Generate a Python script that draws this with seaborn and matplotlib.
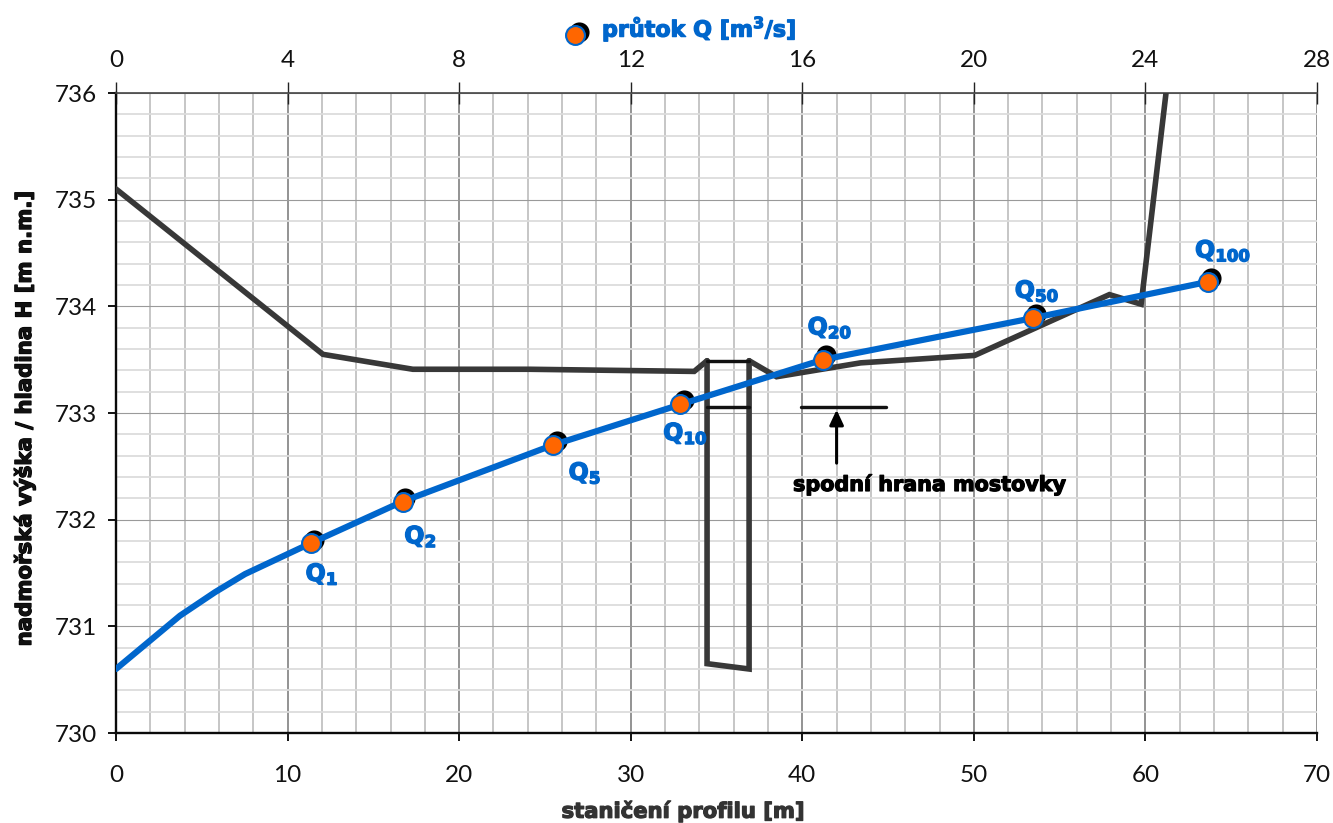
import matplotlib
matplotlib.use('Agg')
import matplotlib.pyplot as plt
import seaborn as sns
from matplotlib.ticker import MultipleLocator
import matplotlib.patheffects as pe

# teren pred mostem / za mostem
left_x = [0, 12.06, 17.3, 24.1, 33.7, 34.45]
left_h = [735.1, 733.55, 733.41, 733.41, 733.39, 733.49]
right_x = [36.9, 38.5, 43.4, 50.05, 57.9, 59.75, 61.2]
right_h = [733.49, 733.34, 733.47, 733.54, 734.11, 734.02, 736.0]

# pilire a mostovka
pier_x = [34.45, 34.45, 36.9, 36.9]
pier_h = [733.49, 730.65, 730.6, 733.49]
deck_x = [34.45, 36.9]
deck_top = [733.49, 733.49]
deck_low = [733.06, 733.06]
note_x = [39.9, 44.9]
note_h = [733.06, 733.06]

# merna krivka
curve_x = [0, 3.73, 5.77, 7.52, 11.36, 16.7, 25.47, 32.9, 41.2, 53.45, 63.65]
curve_h = [730.6, 731.1, 731.32, 731.49, 731.78, 732.17, 732.7, 733.08, 733.5, 733.89, 734.23]

# N-leté průtoky
q_names = ['1', '2', '5', '10', '20', '50', '100']
q_x = [11.36, 16.7, 25.47, 32.9, 41.2, 53.45, 63.65]
q_h = [731.78, 732.17, 732.7, 733.08, 733.5, 733.89, 734.23]
q_flow = [4.62, 6.74, 10.28, 13.24, 16.55, 21.45, 25.52]
q_flow_h = [731.81, 732.2, 732.74, 733.12, 733.54, 733.93, 734.27]
q_offsets = [(11, -31), (18, -35), (32, -28), (5, -29), (7, 32), (4, 27), (15, 31)]

BLUE = '#0066cc'
DARK = '#383838'
ORANGE = '#ff6600'
W, H = 1333, 823

sns.set_style('white')
plt.rcParams['font.family'] = ['Lato', 'DejaVu Sans']
plt.rcParams['mathtext.fontset'] = 'dejavusans'

fig = plt.figure(figsize=(W / 100, H / 100), dpi=100)
ax_q = fig.add_axes([116 / W, 1 - 733 / H, (1317 - 116) / W, (733 - 93) / H])
ax = ax_q.twiny()
ax.patch.set_visible(False)

heavy = [pe.withStroke(linewidth=0.9, foreground='black')]


def line(x, y, color=DARK, px=5.6, cap='round'):
    sns.lineplot(x=x, y=y, ax=ax, color=color, lw=px * 0.72, sort=False,
                 estimator=None, errorbar=None, legend=False,
                 solid_capstyle=cap, solid_joinstyle='miter')


# horni osa: prutok, zakladni mrizka
ax_q.set_xlim(0, 28)
ax_q.set_ylim(730, 736)
ax_q.xaxis.set_major_locator(MultipleLocator(4))
ax_q.xaxis.set_minor_locator(MultipleLocator(0.8))
ax_q.yaxis.set_major_locator(MultipleLocator(1))
ax_q.yaxis.set_minor_locator(MultipleLocator(0.2))
ax_q.grid(True, which='major', axis='x', color='#8a8a8a', lw=1.3)
ax_q.grid(True, which='major', axis='y', color='#9a9a9a', lw=0.8)
ax_q.grid(True, which='minor', axis='x', color='#c6c6c6', lw=1.4)
ax_q.grid(True, which='minor', axis='y', color='#dcdcdc', lw=1.3)
ax_q.set_axisbelow(True)
ax_q.xaxis.tick_top()
ax_q.tick_params(axis='x', which='major', direction='inout', length=16, width=1,
                 color='#222222', labelsize=17.5, pad=8, labelcolor='#111111')
ax_q.tick_params(axis='y', which='major', direction='out', length=6, width=1.4,
                 color='#111111', labelsize=17.5, pad=8, labelcolor='#111111', left=True)
ax_q.tick_params(which='minor', length=0)

sns.scatterplot(x=q_flow, y=q_flow_h, ax=ax_q, color='black', s=210, linewidth=0,
                legend=False, clip_on=False)

# dolni osa: staniceni
ax.set_xlim(0, 70)
ax.xaxis.tick_bottom()
ax.xaxis.set_label_position('bottom')
ax.xaxis.set_major_locator(MultipleLocator(10))
ax.tick_params(axis='x', which='major', direction='out', length=6, width=1.4,
               color='#111111', labelsize=17.5, pad=17, labelcolor='#111111', bottom=True, top=False)
ax.grid(False)

line(left_x, left_h)
line(right_x, right_h)
line(pier_x, pier_h)
line(deck_x, deck_top, color='#111111', px=3.4)
line(deck_x, deck_low, color='#111111', px=3.4)
line(note_x, note_h, color='#111111', px=3.4)
line(curve_x, curve_h, color=BLUE, px=6.2)

sns.scatterplot(x=q_x, y=q_h, ax=ax, color=ORANGE, edgecolor=BLUE, linewidth=1.5, s=185,
                legend=False, zorder=5)

for name, x, y, off in zip(q_names, q_x, q_h, q_offsets):
    ax.annotate(r'$\mathbf{Q_{%s}}$' % name, (x, y), xytext=off, textcoords='offset pixels',
                color=BLUE, fontsize=17, ha='center', va='center', zorder=6,
                path_effects=[pe.withStroke(linewidth=1.0, foreground=BLUE)])

ax.annotate('', xy=(42, 733.03), xytext=(42, 732.53),
            arrowprops=dict(arrowstyle='-|>,head_length=0.9,head_width=0.42', color='black', lw=2.2,
                            shrinkA=0, shrinkB=0))
ax.text(47.4, 732.33, 'spodní hrana mostovky', family='DejaVu Sans', fontweight='bold',
        fontsize=14.9, ha='center', va='center', color='black', path_effects=heavy)

# popisy os
for spine in ('left', 'bottom'):
    ax_q.spines[spine].set_color('#0a0a0a')
    ax_q.spines[spine].set_linewidth(1.7)
ax_q.spines['top'].set_color('#444444')
ax_q.spines['top'].set_linewidth(1.2)
ax_q.spines['right'].set_visible(False)
for spine in ax.spines.values():
    spine.set_visible(False)

ax.set_ylabel('')
ax_q.set_ylabel('')
fig.text(24 / W, 1 - 419 / H, 'nadmořská výška / hladina H [m n.m.]', rotation=90,
         family='DejaVu Sans', fontweight='bold', fontsize=15.3, ha='center', va='center',
         color='#111111', path_effects=heavy)
fig.text(683 / W, 1 - 811 / H, 'staničení profilu [m]', family='DejaVu Sans', fontweight='bold',
         fontsize=15.2, ha='center', va='center', color='#333333',
         path_effects=[pe.withStroke(linewidth=0.9, foreground='#333333')])

# legenda nad grafem
leg = fig.add_axes([0, 0, 1, 1])
leg.set_xlim(0, W)
leg.set_ylim(H, 0)
leg.axis('off')
leg.patch.set_visible(False)
sns.scatterplot(x=[579], y=[32], ax=leg, color='black', s=210, linewidth=0, legend=False)
sns.scatterplot(x=[575], y=[35], ax=leg, color=ORANGE, edgecolor=BLUE, linewidth=1.5, s=185, legend=False)
leg.text(602, 29, r'průtok Q [m$\mathbf{^3}$/s]', family='DejaVu Sans', fontweight='bold',
         fontsize=16, color=BLUE, ha='left', va='center',
         path_effects=[pe.withStroke(linewidth=0.9, foreground=BLUE)])

fig.savefig('out.png', dpi=100)
